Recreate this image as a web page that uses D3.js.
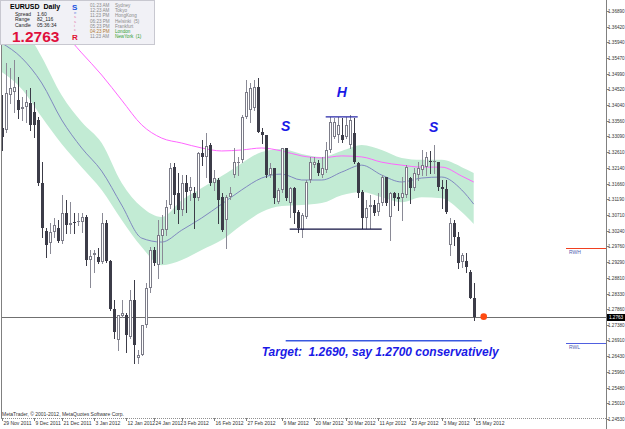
<!DOCTYPE html>
<html><head><meta charset="utf-8">
<script src="https://cdn.jsdelivr.net/npm/d3@7/dist/d3.min.js"></script>
<style>html,body{margin:0;padding:0;background:#fff;}svg{display:block;}text{font-family:"Liberation Sans",Arial,sans-serif;}</style>
</head><body>
<svg id="chart" width="625" height="429"></svg>
<script>
// ---- DATA ----
const opens=[1.3334,1.3328,1.3434,1.3444,1.3419,1.3392,1.3398,1.3410,1.3383,1.3359,
1.3168,1.3022,1.2986,1.3019,1.3031,1.2992,1.3077,1.3041,1.3050,1.3050,
1.3050,1.3065,1.2935,1.2950,1.2944,1.2928,1.3047,1.2931,1.2786,1.2692,
1.2765,1.2768,1.2701,1.2813,1.2638,1.2647,1.2738,1.2850,1.2965,1.2919,
1.3007,1.3025,1.3101,1.3216,1.3138,1.3086,1.3168,1.3144,1.3138,1.3122,
1.3259,1.3247,1.3283,1.3168,1.3177,1.3125,1.3056,1.3125,1.3192,1.3228,
1.3238,1.3368,1.3389,1.3395,1.3459,1.3322,1.3313,1.3192,1.3213,1.3110,
1.3147,1.3274,1.3107,1.3153,1.3080,1.3025,1.3065,1.3177,1.3222,1.3228,
1.3192,1.3207,1.3268,1.3307,1.3313,1.3313,1.3307,1.3283,1.3319,1.3228,
1.3141,1.3062,1.3095,1.3101,1.3080,1.3107,1.3186,1.3065,1.3138,1.3125,
1.3122,1.3131,1.3183,1.3153,1.3192,1.3207,1.3216,1.3234,1.3231,1.3231,
1.3156,1.3150,1.2980,1.3047,1.3004,1.2928,1.2931,1.2898,1.2819];
const highs=[1.3434,1.3531,1.3516,1.3540,1.3489,1.3428,1.3450,1.3456,1.3413,1.3368,
1.3231,1.3031,1.3047,1.3062,1.3056,1.3131,1.3116,1.3110,1.3077,1.3077,
1.3077,1.3071,1.2965,1.2965,1.2971,1.3077,1.3056,1.2935,1.2813,1.2768,
1.2813,1.2774,1.2844,1.2874,1.2662,1.2738,1.2865,1.2974,1.2974,1.3056,
1.3071,1.3116,1.3228,1.3228,1.3198,1.3192,1.3192,1.3186,1.3156,1.3262,
1.3298,1.3319,1.3289,1.3207,1.3183,1.3138,1.3131,1.3156,1.3274,1.3247,
1.3374,1.3480,1.3471,1.3480,1.3486,1.3334,1.3313,1.3228,1.3213,1.3153,
1.3274,1.3274,1.3156,1.3156,1.3086,1.3077,1.3177,1.3247,1.3247,1.3238,
1.3247,1.3292,1.3368,1.3365,1.3368,1.3365,1.3368,1.3374,1.3365,1.3231,
1.3147,1.3116,1.3131,1.3116,1.3138,1.3192,1.3186,1.3141,1.3141,1.3138,
1.3186,1.3222,1.3186,1.3213,1.3231,1.3268,1.3262,1.3265,1.3283,1.3231,
1.3177,1.3177,1.3062,1.3056,1.3019,1.2956,1.2956,1.2904,1.2865];
const lows=[1.3268,1.3322,1.3410,1.3383,1.3365,1.3359,1.3353,1.3328,1.3307,1.3162,
1.3004,1.2944,1.2956,1.3004,1.2989,1.2986,1.3016,1.3016,1.3016,1.3041,
1.3019,1.2919,1.2853,1.2898,1.2925,1.2925,1.2928,1.2783,1.2698,1.2662,
1.2762,1.2656,1.2698,1.2622,1.2622,1.2647,1.2732,1.2838,1.2919,1.2880,
1.2925,1.3010,1.3092,1.3077,1.3047,1.3071,1.3080,1.3116,1.3031,1.3116,
1.3222,1.3186,1.3162,1.3147,1.3047,1.3022,1.2971,1.3119,1.3186,1.3192,
1.3231,1.3365,1.3353,1.3389,1.3322,1.3289,1.3186,1.3186,1.3107,1.3107,
1.3141,1.3116,1.3065,1.3047,1.3019,1.3004,1.3062,1.3171,1.3216,1.3192,
1.3186,1.3201,1.3262,1.3304,1.3292,1.3292,1.3304,1.3274,1.3228,1.3125,
1.3031,1.3031,1.3031,1.3071,1.3071,1.3101,1.3101,1.2995,1.3101,1.3086,
1.3056,1.3125,1.3107,1.3147,1.3177,1.3192,1.3192,1.3198,1.3198,1.3147,
1.3092,1.3077,1.2950,1.2980,1.2910,1.2913,1.2898,1.2819,1.2753];
const closes=[1.3307,1.3441,1.3456,1.3459,1.3389,1.3398,1.3413,1.3344,1.3344,1.3168,
1.3031,1.2980,1.3019,1.3041,1.2992,1.3077,1.3041,1.3047,1.3047,1.3053,
1.3065,1.2935,1.2947,1.2956,1.2928,1.3047,1.2931,1.2786,1.2716,1.2768,
1.2774,1.2707,1.2813,1.2677,1.2647,1.2738,1.2850,1.2965,1.2925,1.3010,
1.3028,1.3095,1.3213,1.3131,1.3086,1.3168,1.3141,1.3156,1.3122,1.3259,
1.3247,1.3280,1.3168,1.3183,1.3116,1.3025,1.3125,1.3138,1.3231,1.3231,
1.3368,1.3444,1.3456,1.3459,1.3322,1.3313,1.3192,1.3213,1.3122,1.3147,
1.3274,1.3122,1.3153,1.3077,1.3031,1.3071,1.3171,1.3231,1.3231,1.3198,
1.3213,1.3268,1.3353,1.3353,1.3344,1.3298,1.3344,1.3359,1.3231,1.3138,
1.3062,1.3092,1.3101,1.3077,1.3107,1.3186,1.3107,1.3138,1.3122,1.3119,
1.3138,1.3216,1.3153,1.3198,1.3213,1.3222,1.3247,1.3231,1.3234,1.3156,
1.3150,1.3080,1.3047,1.3004,1.2925,1.2950,1.2913,1.2819,1.2763];

const bandIdx=[0,5,10,15,20,25,30,35,40,45,50,55,60,65,70,75,80,85,90,95,100,105,110,115,118];
const bandUpper=[1.3707,1.3647,1.3550,1.3434,1.3353,1.3289,1.3168,1.3095,1.3065,1.3116,1.3153,1.3189,1.3228,1.3262,1.3271,1.3256,1.3247,1.3265,1.3283,1.3268,1.3244,1.3238,1.3238,1.3216,1.3198];
const bandMid=[1.3592,1.3547,1.3471,1.3359,1.3274,1.3204,1.3101,1.3001,1.2989,1.3025,1.3062,1.3104,1.3147,1.3183,1.3195,1.3177,1.3177,1.3201,1.3222,1.3192,1.3171,1.3183,1.3186,1.3147,1.3104];
const bandLower=[1.3504,1.3453,1.3368,1.3286,1.3216,1.3147,1.3056,1.2974,1.2919,1.2935,1.2965,1.2995,1.3041,1.3080,1.3098,1.3101,1.3107,1.3131,1.3141,1.3125,1.3110,1.3125,1.3122,1.3080,1.3044];
const maSlow=[1.3753,1.3707,1.3668,1.3628,1.3562,1.3495,1.3419,1.3344,1.3304,1.3289,1.3274,1.3265,1.3268,1.3274,1.3265,1.3250,1.3244,1.3250,1.3247,1.3231,1.3222,1.3216,1.3216,1.3189,1.3171];

const yTickLabels=["1.36890","1.36420","1.35940","1.35470","1.34990","1.34520","1.34040","1.33560","1.33090","1.32610","1.32140","1.31660","1.31190","1.30710","1.30240","1.29760","1.29290","1.28810","1.28330","1.27860","1.27380","1.26910","1.26430","1.25960","1.25480","1.25010","1.24530"];
const dateLabels=["29 Nov 2011","9 Dec 2011","21 Dec 2011","3 Jan 2012","12 Jan 2012","24 Jan 2012","3 Feb 2012","16 Feb 2012","27 Feb 2012","9 Mar 2012","20 Mar 2012","30 Mar 2012","11 Apr 2012","23 Apr 2012","3 May 2012","15 May 2012"];
const dateIdx=[0,8,15,23,31,38,45,53,61,70,78,86,94,102,110,118];

const currentPrice=1.2763;
const neckline={from:72,to:95,price:1.3028};
const headLine={from:81,to:89,price:1.3368};
const targetLine={from:71,to:120,price:1.2690};
const patternLabels=[{t:"S",i:71,p:1.3341},{t:"H",i:85,p:1.3444},{t:"S",i:108,p:1.3338}];
const rwh=1.2971, rwl=1.2683;
const sessionTimes=["01:23 AM","12:23 AM","11:23 PM","06:23 PM","05:23 PM","04:23 PM","11:23 AM"];
const sessionNames=["Sydney","Tokyo","HongKong","Helsinki  (5)","Frankfurt","London","NewYork  (1)"];
const sessionLetters=["e","s","s","i","c"];

// ---- CHART ----
const svg=d3.select("#chart");
const L=1,R=606,T=0,B=418;
const x=d3.scaleLinear().domain([0,118]).range([1.7,473.7]);
const y=d3.scaleLinear().domain([1.24530,1.36890]).range([419,11]);

svg.append("rect").attr("width",625).attr("height",429).attr("fill","#fff");
svg.append("defs").append("clipPath").attr("id","clip").append("rect").attr("x",L).attr("y",T).attr("width",R-L).attr("height",B-T);
const g=svg.append("g").attr("clip-path","url(#clip)");

const band=bandIdx.map((d,k)=>({i:d,u:bandUpper[k],m:bandMid[k],l:bandLower[k],s:maSlow[k]}));
g.append("path").datum(band).attr("fill","#c2ebd4")
 .attr("d",d3.area().x(d=>x(d.i)).y0(d=>y(d.l)).y1(d=>y(d.u)).curve(d3.curveMonotoneX));
g.append("path").datum(band).attr("fill","none").attr("stroke","#8088c0").attr("stroke-width",1)
 .attr("d",d3.line().x(d=>x(d.i)).y(d=>y(d.m)).curve(d3.curveMonotoneX));
g.append("path").datum(band).attr("fill","none").attr("stroke","#ff66ff").attr("stroke-width",1)
 .attr("d",d3.line().x(d=>x(d.i)).y(d=>y(d.s)).curve(d3.curveMonotoneX));

// current price line
g.append("line").attr("x1",L).attr("x2",R).attr("y1",Math.round(y(currentPrice))+0.5).attr("y2",Math.round(y(currentPrice))+0.5).attr("stroke","#707070");

// candles
const bars=opens.map((o,i)=>({i,o,h:highs[i],l:lows[i],c:closes[i]}));
const cg=g.append("g");
bars.forEach(d=>{
  const cx=Math.round(x(d.i));
  const up=d.c>=d.o;
  cg.append("line").attr("x1",cx+0.5).attr("x2",cx+0.5).attr("y1",Math.round(y(d.h))).attr("y2",Math.round(y(d.l))+1)
    .attr("stroke",up?"#8a8a96":"#3c3c48");
  const top=Math.round(y(Math.max(d.o,d.c))), bot=Math.round(y(Math.min(d.o,d.c)));
  const hgt=Math.max(1,bot-top);
  if(up){
    cg.append("rect").attr("x",cx-0.5).attr("y",top+0.5).attr("width",2).attr("height",Math.max(0.01,hgt-1))
      .attr("fill","#fff").attr("stroke","#7c7c88").attr("stroke-width",1);
  } else {
    cg.append("rect").attr("x",cx-1).attr("y",top).attr("width",3).attr("height",hgt).attr("fill","#3c3c48");
  }
});

// annotations
g.append("line").attr("x1",x(neckline.from)).attr("x2",x(neckline.to)).attr("y1",y(neckline.price)).attr("y2",y(neckline.price)).attr("stroke","#101040").attr("stroke-width",1.2);
g.append("line").attr("x1",x(headLine.from)).attr("x2",x(headLine.to)).attr("y1",y(headLine.price)).attr("y2",y(headLine.price)).attr("stroke","#2828a8").attr("stroke-width",1.3);
g.append("line").attr("x1",x(targetLine.from)).attr("x2",x(targetLine.to)).attr("y1",y(targetLine.price)).attr("y2",y(targetLine.price)).attr("stroke","#3a58e0").attr("stroke-width",1.4);
patternLabels.forEach(d=>{
  g.append("text").attr("x",x(d.i)).attr("y",y(d.p)+5).attr("text-anchor","middle")
   .attr("font-size",14).attr("font-weight","bold").attr("font-style","italic").attr("fill","#1a1ae6").text(d.t);
});
g.append("text").attr("x",x(65)).attr("y",y(targetLine.price)+15).attr("font-size",12).attr("font-weight","bold")
 .attr("font-style","italic").attr("fill","#1a1ae6").style("white-space","pre")
 .text("Target:  1.2690, say 1.2700 conservatively");

// RWH / RWL
g.append("line").attr("x1",566).attr("x2",R).attr("y1",Math.round(y(rwh))+0.5).attr("y2",Math.round(y(rwh))+0.5).attr("stroke","#f04020");
g.append("line").attr("x1",566).attr("x2",R).attr("y1",Math.round(y(rwl))+0.5).attr("y2",Math.round(y(rwl))+0.5).attr("stroke","#5060e0");
g.append("text").attr("x",569).attr("y",y(rwh)+6).attr("font-size",5).attr("fill","#5060b0").text("RWH");
g.append("text").attr("x",569).attr("y",y(rwl)+6).attr("font-size",5).attr("fill","#5060b0").text("RWL");

// orange dot
g.append("circle").attr("cx",x(120.5)).attr("cy",y(currentPrice)).attr("r",3.3).attr("fill","#ff4a10");

// copyright
svg.append("text").attr("x",2).attr("y",416).attr("font-size",5).attr("fill","#333").text("MetaTrader, © 2001-2012, MetaQuotes Software Corp.");

// frame
svg.append("line").attr("x1",L+0.5).attr("x2",L+0.5).attr("y1",0).attr("y2",B).attr("stroke","#808080");
svg.append("line").attr("x1",R+0.5).attr("x2",R+0.5).attr("y1",0).attr("y2",429).attr("stroke","#808080");
svg.append("line").attr("x1",L).attr("x2",R).attr("y1",B+0.5).attr("y2",B+0.5).attr("stroke","#909090").attr("stroke-dasharray","1,1");

// right axis
yTickLabels.forEach(s=>{
  const v=+s, yy=Math.round(y(v))+0.5;
  svg.append("line").attr("x1",R).attr("x2",R+3).attr("y1",yy).attr("y2",yy).attr("stroke","#808080");
  svg.append("text").attr("x",608).attr("y",yy+1.8).attr("font-size",4.6).attr("fill","#333").text(s);
});
const cy=Math.round(y(currentPrice));
svg.append("rect").attr("x",607).attr("y",cy-3).attr("width",18).attr("height",7).attr("fill","#000");
svg.append("text").attr("x",609).attr("y",cy+2.3).attr("font-size",4.6).attr("fill","#fff").text(currentPrice.toFixed(4));

// bottom axis
dateLabels.forEach((s,k)=>{
  const xx=Math.round(x(dateIdx[k]))+0.5;
  svg.append("line").attr("x1",xx).attr("x2",xx).attr("y1",B).attr("y2",B+3).attr("stroke","#808080");
  svg.append("text").attr("x",xx+1).attr("y",425).attr("font-size",5).attr("fill","#333").text(s);
});

// info box
const ib=svg.append("g");
ib.append("rect").attr("x",0.5).attr("y",0.5).attr("width",154).attr("height",44).attr("fill","#f1f1f6").attr("stroke","#c8c8d0");
ib.append("text").attr("x",10).attr("y",9).attr("font-size",7).attr("font-weight","bold").attr("fill","#000").style("white-space","pre").text("EURUSD  Daily");
[["Spread","1.60"],["Range","82_116"],["Candle","05:36:34"]].forEach((r,k)=>{
  ib.append("text").attr("x",15).attr("y",15.5+k*5.7).attr("font-size",5).attr("fill","#222").text(r[0]);
  ib.append("text").attr("x",37).attr("y",15.5+k*5.7).attr("font-size",5).attr("fill","#222").text(r[1]);
});
ib.append("text").attr("x",12).attr("y",42).attr("font-size",15.5).attr("font-weight","bold").attr("fill","#e0103c").text("1.2763");
ib.append("text").attr("x",72).attr("y",9.5).attr("font-size",8).attr("font-weight","bold").attr("fill","#2050e0").text("S");
sessionLetters.forEach((c,k)=>{
  ib.append("text").attr("x",74).attr("y",14.3+k*4.1).attr("font-size",4.2).attr("fill",k<1?"#6080e0":"#e070a0").text(c);
});
ib.append("text").attr("x",72).attr("y",39.5).attr("font-size",8).attr("font-weight","bold").attr("fill","#e01030").text("R");
sessionTimes.forEach((t,k)=>{
  const yy=6.8+k*5.25;
  ib.append("text").attr("x",90).attr("y",yy).attr("font-size",4.6).attr("fill",k===5?"#b07830":"#8a8a8a").text(t);
  ib.append("text").attr("x",115).attr("y",yy).attr("font-size",4.6).attr("fill",k>=5?"#30a030":"#8a8a8a").style("white-space","pre").text(sessionNames[k]);
});
</script></body></html>
